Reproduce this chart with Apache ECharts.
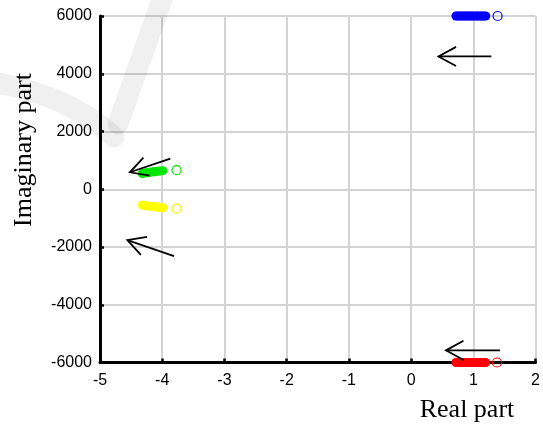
<!DOCTYPE html>
<html>
<head>
<meta charset="utf-8">
<script src="https://cdn.jsdelivr.net/npm/echarts@6/dist/echarts.min.js"></script>
<style>
  html, body { margin: 0; padding: 0; background: #fff; }
  #chart { width: 543px; height: 425px; }
</style>
</head>
<body>
<div id="chart"></div>
<script>
// Axis ranges and ticks
const xTicks = [-5, -4, -3, -2, -1, 0, 1, 2];
const yTicks = [-6000, -4000, -2000, 0, 2000, 4000, 6000];

// Root trajectories: [real, imaginary]
const bluePath = [[0.72, 6000], [0.745, 6000], [0.77, 6000], [0.80, 6000], [0.82, 6000], [0.85, 6000], [0.88, 6000], [0.90, 6000], [0.93, 6000], [0.96, 6000], [0.98, 6000], [1.01, 6000], [1.04, 6000], [1.06, 6000], [1.09, 6000], [1.12, 6000], [1.14, 6000], [1.17, 6000], [1.20, 6000]];
const blueStart = [[1.39, 6000]];

const redPath = [[0.72, -6000], [0.745, -6000], [0.77, -6000], [0.80, -6000], [0.82, -6000], [0.85, -6000], [0.88, -6000], [0.90, -6000], [0.93, -6000], [0.96, -6000], [0.98, -6000], [1.01, -6000], [1.04, -6000], [1.06, -6000], [1.09, -6000], [1.12, -6000], [1.14, -6000], [1.17, -6000], [1.20, -6000]];
const redStart = [[1.38, -6000]];

const greenPath = [[-4.32, 545], [-4.29, 558], [-4.26, 570], [-4.23, 580], [-4.20, 590], [-4.17, 598], [-4.14, 606], [-4.11, 613], [-4.08, 620], [-4.05, 628], [-4.02, 636], [-3.99, 645]];
const greenStart = [[-3.77, 660]];

const yellowPath = [[-4.32, -548], [-4.29, -560], [-4.26, -570], [-4.23, -578], [-4.20, -586], [-4.17, -594], [-4.14, -600], [-4.11, -607], [-4.08, -614], [-4.05, -622], [-4.02, -630], [-3.99, -640]];
const yellowStart = [[-3.77, -668]];

// Direction arrows: [tailRe, tailIm, tipRe, tipIm]
const arrows = [
  [1.29, 4600, 0.44, 4600],
  [-3.87, 1062, -4.52, 588],
  [-3.81, -2318, -4.56, -1765],
  [1.43, -5580, 0.56, -5580]
];

const chart = echarts.init(document.getElementById('chart'), null, { renderer: 'canvas' });

function filled(data, color) {
  return {
    type: 'scatter', data: data, symbol: 'circle', symbolSize: 9,
    itemStyle: { color: color, opacity: 1 }, z: 3, silent: true
  };
}
function open(data, color) {
  return {
    type: 'scatter', data: data, symbol: 'circle', symbolSize: 9,
    itemStyle: { color: 'rgba(0,0,0,0)', borderColor: color, borderWidth: 1.2, opacity: 1 }, z: 3, silent: true
  };
}

const tickLabel = {
  color: '#000', fontSize: 16, fontFamily: 'Liberation Sans, Arial, sans-serif',
  formatter: function (v) { return String(v); }
};
const axisLine = { show: true, onZero: false, lineStyle: { color: '#000', width: 3 } };
const splitLine = { show: true, lineStyle: { color: '#d4d4d4', width: 2 } };
// faint check-mark stroke behind the upper-left corner
const markStyle = { fill: null, stroke: 'rgba(0,0,0,0.06)', lineWidth: 21, lineCap: 'round', lineJoin: 'round' };

const option = {
  animation: false,
  backgroundColor: '#fff',
  grid: { left: 100, right: 7, top: 16, bottom: 62.5, containLabel: false },
  xAxis: {
    type: 'value', min: xTicks[0], max: xTicks[xTicks.length - 1], interval: 1,
    axisLine: axisLine,
    axisTick: { show: true, inside: true, length: 4, lineStyle: { color: '#000', width: 2.5 } },
    axisLabel: Object.assign({ margin: 10 }, tickLabel),
    splitLine: splitLine
  },
  yAxis: {
    type: 'value', min: yTicks[0], max: yTicks[yTicks.length - 1], interval: 2000,
    axisLine: axisLine,
    axisTick: { show: true, inside: true, length: 4, lineStyle: { color: '#000', width: 2.5 } },
    axisLabel: Object.assign({ margin: 8 }, tickLabel),
    splitLine: splitLine
  },
  graphic: [
    {
      type: 'bezierCurve', z: 100, silent: true,
      shape: { x1: -10, y1: 82, cpx1: 30, cpy1: 87, cpx2: 82, cpy2: 106, x2: 114, y2: 137 },
      style: markStyle
    },
    {
      type: 'line', z: 100, silent: true,
      shape: { x1: 118, y1: 124, x2: 166, y2: -12 },
      style: markStyle
    },
    {
      type: 'text', x: 24, y: 150, rotation: Math.PI / 2, z: 10,
      style: { text: 'Imaginary part', fill: '#000', font: '26px "Liberation Serif", "Times New Roman", serif', textAlign: 'center', textVerticalAlign: 'middle' }
    },
    {
      type: 'text', x: 467, y: 410, z: 10,
      style: { text: 'Real part', fill: '#000', font: '26px "Liberation Serif", "Times New Roman", serif', textAlign: 'center', textVerticalAlign: 'middle' }
    }
  ],
  series: [
    filled(bluePath, '#0000ff'), open(blueStart, '#0000ff'),
    filled(redPath, '#ff0000'), open(redStart, '#ff0000'),
    filled(greenPath, '#00e600'), open(greenStart, '#00e600'),
    filled(yellowPath, '#ffff00'), open(yellowStart, '#f0f000'),
    {
      type: 'custom', data: arrows, z: 4, silent: true,
      encode: { x: [0, 2], y: [1, 3] },
      renderItem: function (params, api) {
        const tail = api.coord([api.value(0), api.value(1)]);
        const tip = api.coord([api.value(2), api.value(3)]);
        const ang = Math.atan2(tail[1] - tip[1], tail[0] - tip[0]);
        const L = 20, spread = 0.5;
        const w1 = [tip[0] + L * Math.cos(ang + spread), tip[1] + L * Math.sin(ang + spread)];
        const w2 = [tip[0] + L * Math.cos(ang - spread), tip[1] + L * Math.sin(ang - spread)];
        const st = { stroke: '#000', lineWidth: 1.8, fill: null };
        return {
          type: 'group',
          children: [
            { type: 'line', shape: { x1: tail[0], y1: tail[1], x2: tip[0], y2: tip[1] }, style: st },
            { type: 'polyline', shape: { points: [w1, tip, w2] }, style: st }
          ]
        };
      }
    }
  ]
};

chart.setOption(option);
</script>
</body>
</html>
